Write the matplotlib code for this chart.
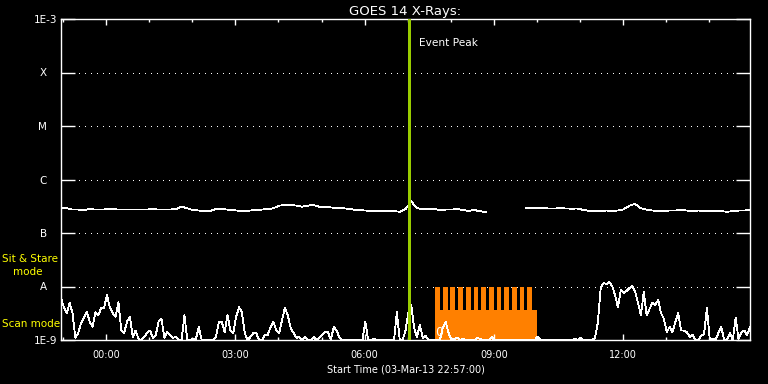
import matplotlib
matplotlib.use('Agg')
import matplotlib.pyplot as plt
from matplotlib.ticker import FixedLocator, FixedFormatter
import numpy as np

# times are hours from 00:00 on 04-Mar-13, plot starts 03-Mar-13 22:57
T_START = -1.05
T_END = 14.95

# GOES 14 long channel, units of 1E-7, one value per 8 min (nan = gap)
goes_step = 8 / 60.
goes_flux = [2.9, 2.9, 2.74, 2.74, 2.7, 2.8, 2.74, 2.74, 2.77, 2.8,
             2.74, 2.74, 2.74, 2.74, 2.74, 2.74, 2.8, 2.74, 2.74, 2.74,
             2.8, 3.1, 2.9, 2.68, 2.63, 2.6, 2.6, 2.8, 2.8, 2.74,
             2.68, 2.6, 2.6, 2.63, 2.68, 2.74, 2.8, 2.9, 3.25, 3.33,
             3.33, 3.25, 3.1, 3.25, 3.33, 3.1, 3.05, 3.0, 2.95, 2.9,
             2.85, 2.74, 2.68, 2.63, 2.6, 2.6, 2.6, 2.6, 2.55, 2.5,
             2.8, 3.9, 2.9, 2.8, 2.8, 2.8, 2.7, 2.74, 2.74, 2.8,
             2.68, 2.6, 2.68, 2.55, 2.45, np.nan, np.nan, np.nan, np.nan, np.nan,
             np.nan, 2.9, 2.9, 2.9, 2.9, 2.87, 2.87, 2.9, 2.87, 2.85,
             2.87, 2.68, 2.6, 2.6, 2.6, 2.63, 2.6, 2.63, 2.77, 3.25,
             3.5, 2.9, 2.74, 2.63, 2.6, 2.6, 2.63, 2.63, 2.68, 2.63,
             2.6, 2.63, 2.6, 2.55, 2.55, 2.55, 2.5, 2.55, 2.63, 2.63,
             2.68]

# lower trace, units of 1E-9, one value per 4 min
low_step = 4 / 60.
low_flux = [6.1, 4.1, 3.2, 4.9, 3.2, 1.1, 1.35, 2.1, 2.6, 3.3,
            2.2, 1.75, 3.3, 2.9, 4.0, 4.0, 6.9, 4.1, 3.2, 2.7,
            5.1, 1.5, 1.35, 2.2, 2.7, 1.14, 1.5, 1.05, 1.0, 1.14,
            1.35, 1.5, 1.1, 1.24, 2.2, 2.5, 1.1, 1.4, 1.24, 1.1,
            1.14, 1.0, 1.0, 2.9, 1.0, 1.0, 1.05, 1.05, 1.75, 1.0,
            1.0, 1.0, 1.0, 1.0, 1.14, 2.2, 2.2, 1.4, 2.9, 1.5,
            1.35, 2.7, 4.1, 3.3, 1.35, 1.0, 1.14, 1.35, 1.35, 1.0,
            1.0, 1.24, 1.24, 1.75, 2.2, 1.5, 1.35, 2.36, 4.0, 2.9,
            1.68, 1.35, 1.1, 1.14, 1.0, 1.14, 1.0, 1.0, 1.14, 1.0,
            1.1, 1.24, 1.4, 1.4, 1.0, 1.75, 1.5, 1.1, 1.0, 1.0,
            1.0, 1.0, 1.0, 1.0, 1.0, 1.0, 2.2, 1.0, 1.0, 1.05,
            1.0, 1.0, 1.0, 1.0, 1.0, 1.0, 1.0, 3.3, 1.0, 1.0,
            1.5, 3.3, 4.5, 1.68, 1.14, 1.91, 1.1, 1.2, 1.0, 1.0,
            1.0, 1.0, 1.0, 1.68, 2.2, 1.35, 1.0, 1.05, 1.1, 1.0,
            1.05, 1.0, 1.0, 1.0, 1.0, 1.1, 1.05, 1.0, 1.0, 1.0,
            1.14, 1.0, 1.0, 1.0, 1.0, 1.0, 1.0, 1.0, 1.0, 1.0,
            1.0, 1.0, 1.0, 1.0, 1.0, 1.0, 1.14, 1.0, 1.0, 1.0,
            1.0, 1.0, 1.0, 1.0, 1.0, 1.0, 1.0, 1.0, 1.0, 1.05,
            1.0, 1.1, 1.0, 1.0, 1.0, 1.0, 1.1, 2.1, 9.4, 11.6,
            11.2, 12.1, 10.2, 6.9, 4.1, 8.6, 7.6, 8.2, 9.4, 10.2,
            7.9, 4.9, 2.9, 7.9, 2.9, 3.8, 4.9, 4.5, 5.6, 3.2,
            2.5, 1.4, 1.75, 1.4, 2.2, 3.2, 1.5, 1.5, 1.4, 1.14,
            1.24, 1.0, 1.0, 1.2, 1.3, 4.0, 1.0, 1.05, 1.0, 1.35,
            1.75, 1.0, 1.0, 1.35, 1.0, 2.6, 1.05, 1.4, 1.5, 1.24,
            1.75]

event_peak = 7.035

# observing mode bars
scan_start = 7.64
scan_end = 10.0
scan_level = 3.6e-9
sit_stare_starts = [7.64, 7.826, 7.988, 8.174, 8.353, 8.53, 8.709,
                    8.888, 9.065, 9.244, 9.423, 9.6, 9.779]
sit_stare_width = 0.108
sit_stare_level = 1e-8

major_levels = [1e-9, 1e-3]
major_names = ['1E-9', '1E-3']
class_levels = [1e-8, 1e-7, 1e-6, 1e-5, 1e-4]
class_names = ['A', 'B', 'C', 'M', 'X']
hour_ticks = [0, 3, 6, 9, 12]
hour_names = ['00:00', '03:00', '06:00', '09:00', '12:00']

fig = plt.figure(figsize=(7.68, 3.84), dpi=100, facecolor='black')
ax = fig.add_axes([61 / 768., 44 / 384., 689 / 768., 321 / 384.])
ax.set_facecolor('black')
ax.set_yscale('log')
ax.set_xlim(T_START, T_END)
ax.set_ylim(1e-9, 1e-3)

# orange mode bars (behind the data)
ax.bar(scan_start, scan_level - 1e-9, width=scan_end - scan_start, bottom=1e-9,
       align='edge', color='#ff8000', lw=0, zorder=1)
ax.bar(sit_stare_starts, sit_stare_level - 1e-9, width=sit_stare_width, bottom=1e-9,
       align='edge', color='#ff8000', lw=0, zorder=1)

for lv in class_levels:
    ax.axhline(lv, color='white', lw=0.7, dashes=(1, 5.5), zorder=0.5, antialiased=False)

t_goes = T_START + goes_step * np.arange(len(goes_flux))
ax.plot(t_goes, np.array(goes_flux) * 1e-7, color='white', lw=0.6, zorder=3,
        antialiased=False)

t_low = T_START + low_step * np.arange(len(low_flux))
ax.plot(t_low, np.array(low_flux) * 1e-9, color='white', lw=0.6, zorder=3,
        antialiased=False)

ax.text(7.74, 1.38e-9, '0', color='white', fontsize=9, ha='center', va='center', zorder=4)

ax.axvline(event_peak, color='#99cc00', lw=1.9, zorder=5, antialiased=False)
ax.annotate('Event Peak', xy=(event_peak, 1), xycoords=('data', 'axes fraction'),
            xytext=(7.4, -17), textcoords='offset points', color='white',
            fontsize=7.6, ha='left', va='center')

# axes styling
for s in ax.spines.values():
    s.set_color('white')
    s.set_linewidth(1.0)

ax.xaxis.set_major_locator(FixedLocator(hour_ticks))
ax.xaxis.set_major_formatter(FixedFormatter(hour_names))
ax.xaxis.set_minor_locator(FixedLocator(np.arange(-1, 15)))
ax.tick_params(axis='x', which='major', direction='in', length=4.3, width=1,
               color='white', labelcolor='white', labelsize=7, pad=7.5,
               top=True, bottom=True)
ax.tick_params(axis='x', which='minor', direction='in', length=2.2, width=1,
               color='white', top=True, bottom=True)

ax.yaxis.set_major_locator(FixedLocator(major_levels))
ax.yaxis.set_major_formatter(FixedFormatter(major_names))
ax.yaxis.set_minor_locator(FixedLocator(class_levels))
ax.yaxis.set_minor_formatter(FixedFormatter(class_names))
ax.tick_params(axis='y', which='major', direction='in', length=10, width=1,
               color='white', labelcolor='white', labelsize=7.5, pad=3,
               left=True, right=True)
ax.tick_params(axis='y', which='minor', direction='in', length=10, width=1,
               color='white', labelcolor='white', labelsize=7.5, pad=10,
               left=True, right=True)

ax.set_title('GOES 14 X-Rays:', color='white', fontsize=9.5, pad=3)
ax.set_xlabel('Start Time (03-Mar-13 22:57:00)', color='white', fontsize=7, labelpad=3)

fig.text(2 / 768., 1 - 259 / 384., 'Sit & Stare', color='yellow', fontsize=7.5,
         ha='left', va='center')
fig.text(12.7 / 768., 1 - 271.7 / 384., 'mode', color='yellow', fontsize=7.5,
         ha='left', va='center')
fig.text(1.7 / 768., 1 - 324 / 384., 'Scan mode', color='yellow', fontsize=7.5,
         ha='left', va='center')

fig.savefig('out.png', dpi=100, facecolor='black')
